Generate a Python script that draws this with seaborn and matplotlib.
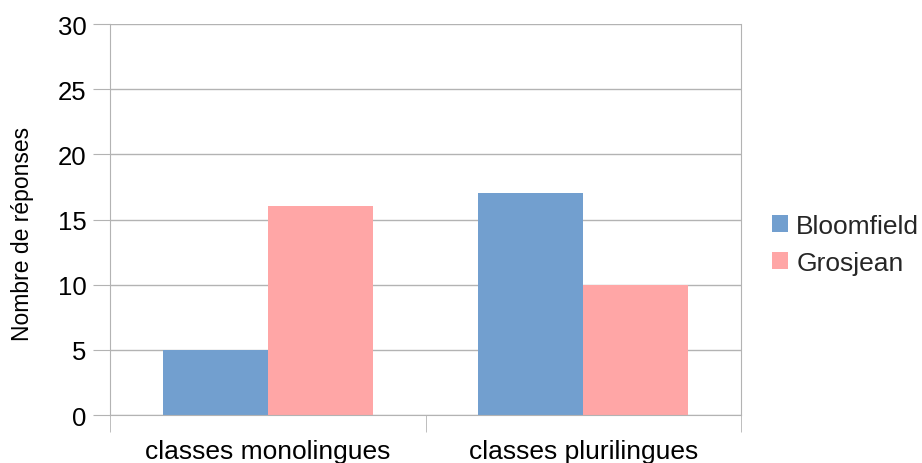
import pandas as pd
import matplotlib.pyplot as plt
import seaborn as sns

# data
classes = ['classes monolingues', 'classes plurilingues']
bloomfield = [5, 17]
grosjean = [16, 10]

df = pd.DataFrame({
    'classe': classes * 2,
    'auteur': ['Bloomfield'] * 2 + ['Grosjean'] * 2,
    'reponses': bloomfield + grosjean,
})

sns.set_style('white')
plt.rcParams['font.family'] = ['Liberation Sans', 'DejaVu Sans']

fig = plt.figure(figsize=(9.22, 4.64), dpi=100)
ax = fig.add_axes([0.1193, 0.1034, 0.6844, 0.8427])

sns.barplot(data=df, x='classe', y='reponses', hue='auteur',
            palette=['#729fcf', '#ffa6a6'], width=0.665, gap=0,
            saturation=1, linewidth=0, ax=ax)

ax.set_xlim(-0.5, 1.5)
ax.set_ylim(0, 30)
ax.set_yticks(range(0, 31, 5))
ax.yaxis.grid(True, color='#b3b3b3', linewidth=1)
ax.set_axisbelow(True)

for side in ['left', 'right', 'bottom']:
    ax.spines[side].set_visible(True)
    ax.spines[side].set_color('#b3b3b3')
ax.spines['top'].set_visible(False)

ax.tick_params(axis='y', length=12, color='#b3b3b3', labelsize=18.5,
               labelcolor='black', pad=5, left=True)
ax.tick_params(axis='x', which='major', length=0, labelsize=19,
               labelcolor='black', pad=17)
ax.set_xticks([-0.5, 0.5, 1.5], minor=True)
ax.tick_params(axis='x', which='minor', length=12, color='#b3b3b3', bottom=True)

ax.set_xlabel('')
ax.set_ylabel('Nombre de réponses', fontsize=16.5, color='black')
ax.yaxis.set_label_coords(-0.12, 0.465)

ax.legend(title=None, frameon=False, fontsize=19, loc='center left',
          bbox_to_anchor=(1.033, 0.437), handlelength=0.6, handleheight=0.6,
          handletextpad=0.3, labelspacing=0.5, borderaxespad=0)

fig.savefig('out.png', dpi=100)
